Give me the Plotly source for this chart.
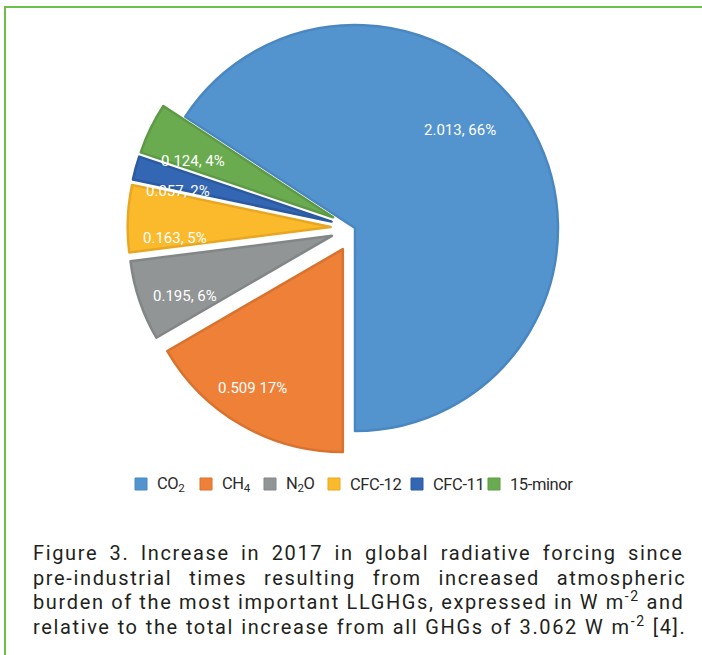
import math
import plotly.graph_objects as go

# Radiative forcing increase (W m-2) by long-lived greenhouse gas, 2017
gases = ["CO<sub>2</sub>", "CH<sub>4</sub>", "N<sub>2</sub>O", "CFC-12", "CFC-11", "15-minor"]
forcing = [2.013, 0.509, 0.195, 0.163, 0.057, 0.124]
value_pct_sep = [", ", " ", ", ", ", ", ", ", ", "]

caption_lines = [
    "Figure 3. Increase in 2017 in global radiative forcing since",
    "pre-industrial times resulting from increased atmospheric",
    "burden of the most important LLGHGs, expressed in W m<sup>-2</sup> and",
    "relative to the total increase from all GHGs of 3.062 W m<sup>-2</sup> [4].",
]

# styling
fill_colors = ["#5394cf", "#ee8038", "#929596", "#fbba2b", "#3366b3", "#6aab4f"]
edge_colors = ["#4a87c0", "#d8722f", "#838687", "#e8a722", "#2c5aa0", "#5e9a46"]
slice_pull = [0.0, 0.12, 0.12, 0.12, 0.12, 0.12]
# data-label placement: distance from the slice apex (fraction of radius) and turn off the bisector (deg)
label_radius = [0.707, 0.815, 0.782, 0.768, 0.771, 0.744]
label_turn = [-14.6, 3.0, -3.6, -6.4, -4.0, -4.1]
# legend key: left edge of each colour swatch (px) in one row
legend_key_x = [135, 200, 264, 328, 411, 488]
LEGEND_Y = 484
caption_word_spacing = [4.8, 10.3, 0.0, 0.5]
caption_letter_spacing = 1.63

W, H = 702, 655
PIE_CX, PIE_CY, PIE_R = 355.0, 228.0, 203.0   # pie centre / radius in px

total = sum(forcing)
# CO2 wedge ends at 6 o'clock, the rest follow clockwise
start_angle = 180 - 360 * forcing[0] / total

half = PIE_R * (1 + max(slice_pull))
dom_x = [(PIE_CX - half) / W, (PIE_CX + half) / W]
dom_y = [1 - (PIE_CY + half) / H, 1 - (PIE_CY - half) / H]

fig = go.Figure(
    go.Pie(
        labels=gases,
        values=forcing,
        sort=False,
        direction="clockwise",
        rotation=start_angle,
        pull=slice_pull,
        marker=dict(colors=fill_colors, line=dict(color=edge_colors, width=2.5)),
        textinfo="none",
        hoverinfo="label+value+percent",
        domain=dict(x=dom_x, y=dom_y),
        showlegend=False,
    )
)

# value / percent labels placed inside each wedge
angle = start_angle
for v, sep, pull, rf, turn in zip(forcing, value_pct_sep, slice_pull, label_radius, label_turn):
    span = 360 * v / total
    bis = math.radians(angle + span / 2)
    ax = PIE_CX + pull * PIE_R * math.sin(bis)
    ay = PIE_CY - pull * PIE_R * math.cos(bis)
    t = bis + math.radians(turn)
    lx = ax + rf * PIE_R * math.sin(t)
    ly = ay - rf * PIE_R * math.cos(t)
    pct = round(100 * v / total)
    fig.add_annotation(
        text=f"{v:.3f}{sep}{pct}%",
        xref="paper", yref="paper",
        x=lx / W, y=1 - ly / H,
        xanchor="center", yanchor="middle",
        showarrow=False,
        font=dict(family="Roboto", size=15, color="white"),
    )
    angle += span

# legend row: swatch + name for each gas
for name, fc, ec, kx in zip(gases, fill_colors, edge_colors, legend_key_x):
    fig.add_shape(
        type="rect", xref="paper", yref="paper",
        x0=kx / W, x1=(kx + 12) / W,
        y0=1 - (LEGEND_Y + 6) / H, y1=1 - (LEGEND_Y - 6) / H,
        fillcolor=fc, line=dict(color=ec, width=1),
    )
    fig.add_annotation(
        text=f'<span style="letter-spacing:-0.4px">{name}</span>',
        xref="paper", yref="paper",
        x=(kx + 21) / W, y=1 - LEGEND_Y / H,
        xanchor="left", yanchor="middle",
        showarrow=False,
        borderpad=0,
        font=dict(family="Roboto", size=16.5, color="#2b2b2b"),
    )

# caption, one justified line at a time
baselines = [560, 584.5, 609, 633.5]
for line, ws, base in zip(caption_lines, caption_word_spacing, baselines):
    fig.add_annotation(
        text=f'<span style="letter-spacing:{caption_letter_spacing}px;word-spacing:{ws}px">{line}</span>',
        xref="paper", yref="paper",
        x=32 / W, y=1 - (base + 6) / H,
        xanchor="left", yanchor="bottom",
        align="left",
        showarrow=False,
        borderpad=0,
        font=dict(family="Roboto", size=20, color="#231f20"),
    )

# green frame (top and left edges; it runs past the page on the other sides)
fig.add_shape(
    type="rect", xref="paper", yref="paper",
    x0=5 / W, x1=1.05, y0=-0.05, y1=1 - 7 / H,
    line=dict(color="#6cbf4a", width=2), fillcolor="rgba(0,0,0,0)",
)

fig.update_layout(
    width=W, height=H,
    margin=dict(l=0, r=0, t=0, b=0),
    paper_bgcolor="white",
    plot_bgcolor="white",
    showlegend=False,
)

fig.write_html("out.html")
